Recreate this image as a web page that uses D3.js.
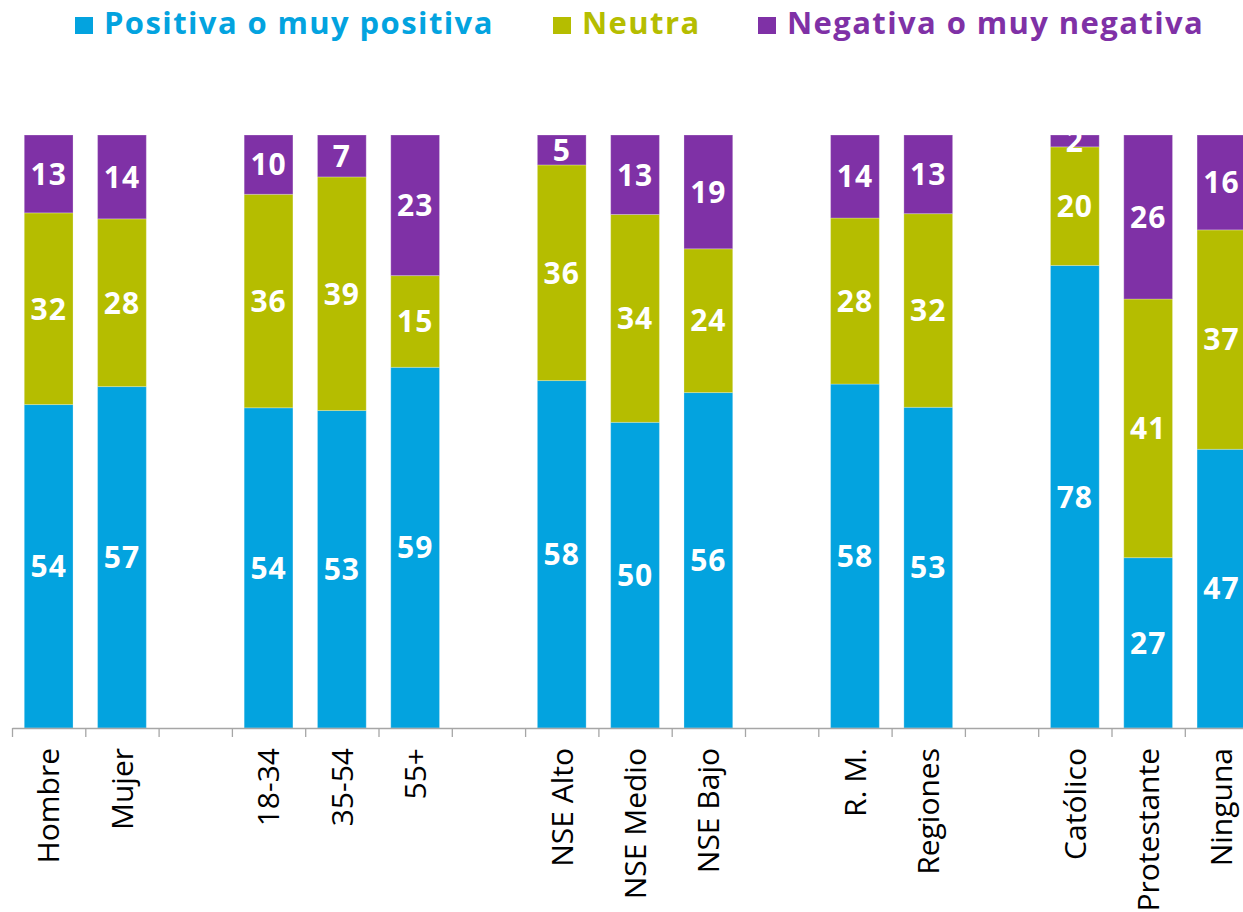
<!DOCTYPE html>
<html>
<head>
<meta charset="utf-8">
<script src="https://cdn.jsdelivr.net/npm/d3@7"></script>
<style>
  body { margin: 0; background: #fff; }
  svg { display: block; font-family: "Open Sans", sans-serif; }
</style>
</head>
<body>
<div id="chart-area"></div>
<script>
// chart size
let width = 1243,
	height = 912;

// categories (empty strings are the gaps between groups)
let categories = ["Hombre", "Mujer", "", "18-34", "35-54", "55+", "", "NSE Alto", "NSE Medio", "NSE Bajo", "",
	"R. M.", "Regiones", "", "Católico", "Protestante", "Ninguna"];

let positiva = [54, 57, null, 54, 53, 59, null, 58, 50, 56, null, 58, 53, null, 78, 27, 47];
let neutra = [32, 28, null, 36, 39, 15, null, 36, 34, 24, null, 28, 32, null, 20, 41, 37];
let negativa = [13, 14, null, 10, 7, 23, null, 5, 13, 19, null, 14, 13, null, 2, 26, 16];

let seriesNames = ["Positiva o muy positiva", "Neutra", "Negativa o muy negativa"];
let colors = ["#03A3DF", "#B5BD00", "#7F31A6"];

// build rows for the stack (normalised to 100% per bar)
let rows = categories.map((c, i) => ({
	key: "c" + i,
	label: c,
	pos: positiva[i],
	neu: neutra[i],
	neg: negativa[i]
})).filter(d => d.pos !== null);

let svg = d3.select("#chart-area")
	.append("svg")
	.attr("width", width)
	.attr("height", height);

let x0 = 12, slotW = 73.3;
let plotTop = 135, plotBottom = 728;

let x = d3.scaleBand()
	.domain(categories.map((c, i) => "c" + i))
	.range([x0, x0 + slotW * categories.length])
	.paddingInner(0.335)
	.paddingOuter(0.1675);

let y = d3.scaleLinear()
	.domain([0, 1])
	.range([plotBottom, plotTop]);

let stack = d3.stack()
	.keys(["pos", "neu", "neg"])
	.offset(d3.stackOffsetExpand);

let layers = stack(rows);

let layer = svg.selectAll(".layer")
	.data(layers)
	.enter()
	.append("g")
	.attr("class", "layer")
	.attr("fill", (d, i) => colors[i]);

layer.selectAll("rect")
	.data(d => d)
	.enter()
	.append("rect")
	.attr("x", d => x(d.data.key))
	.attr("width", x.bandwidth())
	.attr("y", d => y(d[1]))
	.attr("height", d => y(d[0]) - y(d[1]))
	.attr("stroke", "rgba(255,255,255,0.25)")
	.attr("stroke-width", 1);

// value labels
let seriesKeys = ["pos", "neu", "neg"];
layers.forEach((l, si) => {
	svg.append("g")
		.selectAll("text")
		.data(l)
		.enter()
		.append("text")
		.attr("x", d => x(d.data.key) + x.bandwidth() / 2)
		.attr("y", d => (y(d[0]) + y(d[1])) / 2)
		.attr("dy", "0.36em")
		.attr("text-anchor", "middle")
		.attr("fill", "#fff")
		.attr("font-weight", 700)
		.attr("font-size", 30)
		.attr("letter-spacing", 1)
		.text(d => d.data[seriesKeys[si]]);
});

// axis: tick marks at the slot boundaries
let slotScale = d3.scaleLinear()
	.domain([0, categories.length])
	.range([x0, x0 + slotW * categories.length]);

let tickAxis = svg.append("g")
	.attr("transform", "translate(0," + plotBottom + ")")
	.call(d3.axisBottom(slotScale)
		.tickValues(d3.range(0, categories.length + 1))
		.tickSize(9)
		.tickSizeOuter(0)
		.tickFormat(""));
tickAxis.select(".domain").attr("stroke", "#A6A6A6").attr("stroke-width", 1.3);
tickAxis.selectAll(".tick line").attr("stroke", "#A6A6A6").attr("stroke-width", 1.3);

// category labels, rotated
let labelAxis = svg.append("g")
	.attr("transform", "translate(0," + plotBottom + ")")
	.call(d3.axisBottom(x)
		.tickSize(0)
		.tickFormat((d, i) => categories[i]));
labelAxis.select(".domain").remove();
labelAxis.selectAll("text")
	.attr("transform", "rotate(-90)")
	.attr("x", -20)
	.attr("y", 0)
	.attr("dy", "0.36em")
	.attr("text-anchor", "end")
	.attr("fill", "#000")
	.attr("font-family", "Open Sans, sans-serif")
	.attr("font-size", 30);

// legend
let legendX = [75, 553, 758];
let legend = svg.append("g");
seriesNames.forEach((name, i) => {
	legend.append("rect")
		.attr("x", legendX[i])
		.attr("y", 17)
		.attr("width", 18)
		.attr("height", 17)
		.attr("fill", colors[i]);
	legend.append("text")
		.attr("x", legendX[i] + 29)
		.attr("y", 34)
		.attr("fill", colors[i])
		.attr("font-weight", 700)
		.attr("font-size", 31)
		.attr("letter-spacing", 1.4)
		.text(name);
});
</script>
</body>
</html>
